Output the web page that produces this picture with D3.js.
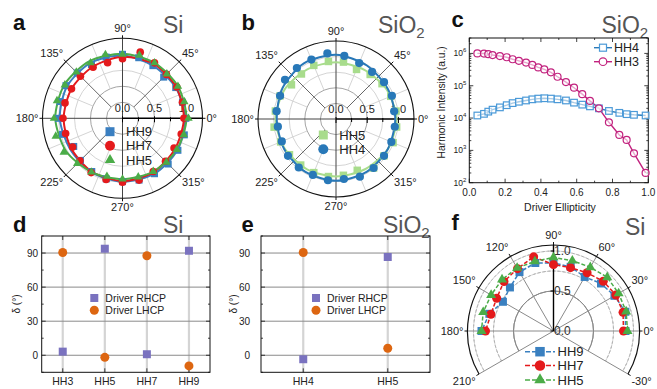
<!DOCTYPE html>
<html>
<head>
<meta charset="utf-8">
<script src="https://cdn.jsdelivr.net/npm/d3@7"></script>
<style>
  body { margin: 0; background: #fff; }
  svg text { font-family: "Liberation Sans", Arial, Helvetica, sans-serif; }
</style>
</head>
<body>
<svg id="fig" width="657" height="389"></svg>
<script>
// ---------------- data ----------------
// (a) Si: normalised harmonic yield vs. half-wave-plate angle
const siAngles = [0,15,30,45,60,75,90,105,120,135,150,165,180,195,210,225,240,255,270,285,300,315,330,345];
const siHH9 = [0.99,0.97,0.96,0.91,0.95,0.98,1.00,0.99,0.97,1.00,1.02,1.01,1.00,0.97,0.88,0.93,0.96,0.98,0.99,1.00,1.00,1.01,1.00,1.00];
const siHH7 = [0.96,0.97,0.98,0.97,1.00,1.07,0.93,0.90,0.92,0.93,0.92,0.93,0.93,0.92,0.90,0.94,0.98,0.99,1.00,1.00,0.96,0.95,0.93,0.95];
const siHH5 = [1.03,1.00,1.00,0.98,1.00,1.02,1.00,1.03,1.00,1.02,1.04,1.06,1.07,1.08,1.06,1.00,0.97,0.94,0.95,0.95,0.96,0.97,0.98,0.99];
const siFitAngles = [0,30,60,90,120,150,180,210,240,270,300,330];
const siFitHH9 = [0.98,0.96,0.95,0.98,1.00,1.00,0.98,0.95,0.97,0.99,1.00,0.99];
const siFitHH7 = [0.96,0.97,0.98,0.96,0.93,0.92,0.92,0.93,0.96,0.98,0.97,0.95];
const siFitHH5 = [1.00,1.00,1.00,1.01,1.03,1.05,1.05,1.02,0.97,0.95,0.96,0.98];

// (b) SiO2
const sio2Angles = [7.5,22.5,37.5,52.5,67.5,82.5,97.5,112.5,127.5,142.5,157.5,172.5,187.5,202.5,217.5,232.5,247.5,262.5,277.5,292.5,307.5,322.5,337.5,352.5];
const sio2HH4 = [0.94,0.97,0.97,0.95,0.97,1.02,1.06,1.03,1.03,1.03,0.97,0.96,0.94,0.94,0.97,0.98,0.97,0.99,0.97,1.00,0.99,0.97,0.96,0.95];
const sio2HH5 = [0.97,0.95,0.93,0.90,0.86,0.92,0.93,0.93,0.91,0.90,0.97,0.98,1.00,0.96,0.94,0.93,0.93,0.93,0.91,0.89,0.99,0.97,0.99,0.98];
const sio2FitAngles = [0,30,60,90,120,150,180,210,240,270,300,330];
const sio2FitHH4 = [0.95,0.96,0.99,1.03,1.03,0.99,0.95,0.96,0.98,0.99,0.98,0.96];
const sio2FitHH5 = [0.97,0.94,0.91,0.91,0.92,0.95,0.97,0.95,0.93,0.92,0.93,0.96];

// (c) SiO2 harmonic intensity vs. driver ellipticity
const ellipticity = [0.045,0.082,0.106,0.130,0.171,0.209,0.242,0.277,0.317,0.352,0.385,0.419,0.456,0.493,0.540,0.585,0.631,0.674,0.724,0.780,0.838,0.879,0.920,0.985];
const intensityHH4 = [1.2e4,1.35e4,1.58e4,1.82e4,2.14e4,2.5e4,2.9e4,3.2e4,3.5e4,3.8e4,4.0e4,4.1e4,4.0e4,3.8e4,3.5e4,3.0e4,2.6e4,2.3e4,2.0e4,1.66e4,1.45e4,1.32e4,1.26e4,1.2e4];
const intensityHH3 = [1.0e6,9.9e5,9.5e5,8.9e5,8.3e5,7.6e5,6.6e5,5.9e5,5.2e5,4.4e5,3.7e5,3.2e5,2.6e5,1.9e5,1.3e5,8.7e4,5.5e4,3.4e4,2.0e4,7.4e3,3.0e3,2.1e3,8.1e2,2.0e2];
const ellipTicks = [0.0,0.2,0.4,0.6,0.8,1.0];
const intensityExponents = [2,3,4,5,6];

// (d) Si phase delta
const dHarmonics = ["HH3","HH5","HH7","HH9"];
const dRHCP = [3.2,93.8,0.9,92.0];
const dLHCP = [90.5,-1.8,87.6,-9.4];
// (e) SiO2 phase delta
const eHarmonics = ["HH4","HH5"];
const eRHCP = [-3.5,86.5];
const eLHCP = [90.5,6.2];
const deltaTicks = [0,30,60,90];

// (f) Si, half-range polar
const fAngles = [0,15,30,45,60,75,90,105,120,135,150,165,180];
const fHH9 = [0.90,0.93,0.88,0.84,0.78,0.83,0.85,0.88,0.85,0.77,0.73,0.83,0.90];
const fHH7 = [0.875,0.90,0.90,0.88,0.84,0.82,0.83,0.96,0.90,0.875,0.82,0.81,0.85];
const fHH5 = [0.925,0.94,0.94,0.95,0.92,0.91,0.92,0.90,0.91,0.91,0.90,0.91,0.90];

const fullAngleTicks = [0,45,90,135,180,225,270,315];
const halfAngleTicks = [-30,0,30,60,90,120,150,180,210];

// ---------------- helpers ----------------
const svg = d3.select("#fig");
svg.append("rect").attr("width", 657).attr("height", 389).attr("fill", "#fff");
const RAD = Math.PI / 180;
function pt(cx, cy, r, deg) { return [cx + r * Math.cos(deg * RAD), cy - r * Math.sin(deg * RAD)]; }
const sq = s => d3.symbol().type(d3.symbolSquare).size(s * s)();
const circ = d => d3.symbol().type(d3.symbolCircle).size(Math.PI * d * d / 4)();
const tri = s => d3.symbol().type(d3.symbolTriangle).size(Math.sqrt(3) / 4 * s * s)();
const zipPolar = (angles, vals) => angles.map((a, i) => ({ a: a, r: vals[i] }));

function angleLabel(g, cx, cy, rr, deg, fs) {
  const [x, y] = pt(cx, cy, rr, deg);
  const c = Math.cos(deg * RAD), s = Math.sin(deg * RAD);
  const anchor = c > 0.3 ? "start" : (c < -0.3 ? "end" : "middle");
  const dy = s > 0.3 ? -2 : (s < -0.3 ? fs * 0.8 : fs * 0.35);
  g.append("text").attr("x", x).attr("y", y + dy).attr("text-anchor", anchor)
    .attr("font-size", fs).attr("fill", "#222").text(deg + "°");
}

function panelHeader(letter, lx, ly, title, sub, tx, ty) {
  svg.append("text").attr("x", lx).attr("y", ly).attr("font-size", 22).attr("font-weight", "bold")
    .attr("fill", "#111").text(letter);
  const t = svg.append("text").attr("x", tx).attr("y", ty).attr("font-size", 23).attr("fill", "#555").text(title);
  if (sub) t.append("tspan").attr("font-size", 15).attr("dy", 5).text(sub);
}

// full-circle polar panel
function fullPolar(o) {
  const g = svg.append("g");
  const r = d3.scaleLinear().domain([0, o.rMax]).range([0, o.R]);
  const { cx, cy, R } = o;
  [[0.25, "#9a9a9a"], [0.5, "#9a9a9a"], [0.75, "#cfcfcf"], [1.0, "#cfcfcf"]].forEach(([v, c]) =>
    g.append("circle").attr("cx", cx).attr("cy", cy).attr("r", r(v)).attr("fill", "none").attr("stroke", c).attr("stroke-width", 0.9));
  for (let a = 22.5; a < 360; a += 45) {
    const [x1, y1] = pt(cx, cy, r(0.5), a), [x2, y2] = pt(cx, cy, R, a);
    g.append("line").attr("x1", x1).attr("y1", y1).attr("x2", x2).attr("y2", y2).attr("stroke", "#cfcfcf").attr("stroke-width", 0.9);
  }
  [45, 135, 225, 315].forEach(a => {
    const [x1, y1] = pt(cx, cy, r(0.25), a), [x2, y2] = pt(cx, cy, R, a);
    g.append("line").attr("x1", x1).attr("y1", y1).attr("x2", x2).attr("y2", y2).attr("stroke", "#555").attr("stroke-width", 0.9);
  });
  g.append("line").attr("x1", cx).attr("y1", cy - R).attr("x2", cx).attr("y2", cy + R).attr("stroke", "#444").attr("stroke-width", 1);
  g.append("line").attr("x1", cx - R).attr("y1", cy).attr("x2", cx).attr("y2", cy).attr("stroke", "#444").attr("stroke-width", 1);
  g.append("circle").attr("cx", cx).attr("cy", cy).attr("r", R).attr("fill", "none").attr("stroke", "#111").attr("stroke-width", 1.1);
  fullAngleTicks.forEach(a => {
    const [x1, y1] = pt(cx, cy, R, a), [x2, y2] = pt(cx, cy, R + 3, a);
    g.append("line").attr("x1", x1).attr("y1", y1).attr("x2", x2).attr("y2", y2).attr("stroke", "#111");
    angleLabel(g, cx, cy, R + 4, a, 11);
  });
  // radial axis along 0°
  g.append("line").attr("x1", cx).attr("y1", cy).attr("x2", cx + R).attr("y2", cy).attr("stroke", "#000").attr("stroke-width", 1.4);
  [0, 0.25, 0.5, 0.75, 1.0].forEach(v => {
    const major = (v * 2) % 1 === 0;
    g.append("line").attr("x1", cx + r(v)).attr("x2", cx + r(v)).attr("y1", cy - (major ? 2 : 1)).attr("y2", cy + (major ? 4 : 3))
      .attr("stroke", "#000").attr("stroke-width", 1);
    if (major) g.append("text").attr("x", cx + r(v)).attr("y", cy - 6).attr("text-anchor", "middle")
      .attr("font-size", 11).attr("fill", "#222").text(v.toFixed(1));
  });
  const line = d3.lineRadial().angle(d => (90 - d.a) * RAD).radius(d => r(d.r)).curve(d3.curveCardinalClosed.tension(0.2));
  o.fits.forEach(f => g.append("path").attr("transform", `translate(${cx},${cy})`).attr("d", line(f.data))
    .attr("fill", "none").attr("stroke", f.color).attr("stroke-width", 2));
  o.series.forEach(s => s.data.forEach(d => {
    const [x, y] = pt(cx, cy, r(d.r), d.a);
    g.append("path").attr("d", s.shape).attr("transform", `translate(${x},${y})`).attr("fill", s.color);
  }));
  o.legend.forEach(l => {
    g.append("path").attr("d", l.shape).attr("transform", `translate(${l.x},${l.y})`).attr("fill", l.color);
    g.append("text").attr("x", l.tx).attr("y", l.y + 4.6).attr("font-size", 13).attr("fill", "#222").text(l.label);
  });
}

// ---------------- (a) Si ----------------
const cBlue = "#3a7fc1", cRed = "#e41a1c", cGreen = "#4bac48";
panelHeader("a", 13, 30, "Si", null, 163, 33);
fullPolar({
  cx: 122.5, cy: 118.3, R: 80, rMax: 1.25,
  fits: [
    { data: zipPolar(siFitAngles, siFitHH9), color: cBlue },
    { data: zipPolar(siFitAngles, siFitHH7), color: cRed },
    { data: zipPolar(siFitAngles, siFitHH5), color: cGreen }
  ],
  series: [
    { data: zipPolar(siAngles, siHH9), color: cBlue, shape: sq(7) },
    { data: zipPolar(siAngles, siHH7), color: cRed, shape: circ(7.6) },
    { data: zipPolar(siAngles, siHH5), color: cGreen, shape: tri(8.5) }
  ],
  legend: [
    { label: "HH9", color: cBlue, shape: sq(9), x: 110, y: 131.7, tx: 126 },
    { label: "HH7", color: cRed, shape: circ(10), x: 110, y: 145.7, tx: 126 },
    { label: "HH5", color: cGreen, shape: tri(10.5), x: 110, y: 160, tx: 126 }
  ]
});

// ---------------- (b) SiO2 ----------------
const cBlueB = "#2878b8", cLight = "#a8dc8c";
panelHeader("b", 241.5, 30, "SiO", "2", 378, 33);
fullPolar({
  cx: 336, cy: 119, R: 78, rMax: 1.25,
  fits: [
    { data: zipPolar(sio2FitAngles, sio2FitHH5), color: cLight },
    { data: zipPolar(sio2FitAngles, sio2FitHH4), color: cBlueB }
  ],
  series: [
    { data: zipPolar(sio2Angles, sio2HH5), color: cLight, shape: sq(7.5) },
    { data: zipPolar(sio2Angles, sio2HH4), color: cBlueB, shape: circ(8.2) }
  ],
  legend: [
    { label: "HH5", color: cLight, shape: sq(9), x: 323.3, y: 135, tx: 339.3 },
    { label: "HH4", color: cBlueB, shape: circ(10), x: 323.3, y: 149.3, tx: 339.3 }
  ]
});

// ---------------- (c) intensity vs ellipticity ----------------
(function () {
  panelHeader("c", 451.5, 27, "SiO", "2", 601.5, 33);
  const L = 469.3, Rt = 648.3, T = 38, B = 182.7;
  const g = svg.append("g");
  const x = d3.scaleLinear().domain([0, 1]).range([L, Rt]);
  const y = d3.scaleLog().domain([1e2, 3e6]).range([B, T]);
  const tk = (x1, y1, x2, y2) => g.append("line").attr("x1", x1).attr("y1", y1).attr("x2", x2).attr("y2", y2).attr("stroke", "#111").attr("stroke-width", 0.8);
  [0.1, 0.3, 0.5, 0.7, 0.9].forEach(v => { tk(x(v), B, x(v), B - 2); tk(x(v), T, x(v), T + 2); });
  ellipTicks.forEach(v => {
    tk(x(v), B, x(v), B - 4); tk(x(v), T, x(v), T + 4);
    g.append("text").attr("x", x(v)).attr("y", B + 13.5).attr("text-anchor", "middle").attr("font-size", 10).attr("fill", "#222").text(v.toFixed(1));
  });
  intensityExponents.forEach(e => {
    const v = Math.pow(10, e);
    tk(L, y(v), L + 4, y(v)); tk(Rt, y(v), Rt - 4, y(v));
    for (let m = 2; m <= 9; m++) {
      const mv = m * v;
      if (mv <= 3e6) { tk(L, y(mv), L + 2, y(mv)); tk(Rt, y(mv), Rt - 2, y(mv)); }
    }
    const t = g.append("text").attr("x", L - 3).attr("y", y(v) + 3).attr("text-anchor", "end").attr("font-size", 8.5).attr("fill", "#222").text("10");
    t.append("tspan").attr("font-size", 6).attr("dy", -4).text(e);
  });
  g.append("rect").attr("x", L).attr("y", T).attr("width", Rt - L).attr("height", B - T).attr("fill", "none").attr("stroke", "#111").attr("stroke-width", 1);
  g.append("text").attr("transform", `translate(${441.7},${102.3}) rotate(-90)`).attr("text-anchor", "middle").attr("dy", 3.5)
    .attr("font-size", 10.3).attr("fill", "#222").text("Harmonic Intensity (a.u.)");
  g.append("text").attr("x", 560).attr("y", 211).attr("text-anchor", "middle").attr("font-size", 10.5).attr("fill", "#222").text("Driver Ellipticity");

  const cHH4 = "#2b7bba", cHH4m = "#4b9ad8", cHH3 = "#c2227e";
  const ln = d3.line().x(d => x(d[0])).y(d => y(d[1]));
  const s4 = ellipticity.map((e, i) => [e, intensityHH4[i]]);
  const s3 = ellipticity.map((e, i) => [e, intensityHH3[i]]);
  g.append("path").attr("d", ln(s4)).attr("fill", "none").attr("stroke", cHH4).attr("stroke-width", 1.4);
  g.append("path").attr("d", ln(s3)).attr("fill", "none").attr("stroke", cHH3).attr("stroke-width", 1.4);
  s4.forEach(d => g.append("rect").attr("x", x(d[0]) - 3.3).attr("y", y(d[1]) - 3.3).attr("width", 6.6).attr("height", 6.6)
    .attr("fill", "#fff").attr("fill-opacity", 0.6).attr("stroke", cHH4m).attr("stroke-width", 1.2));
  s3.forEach(d => g.append("circle").attr("cx", x(d[0])).attr("cy", y(d[1])).attr("r", 3.5)
    .attr("fill", "#fff").attr("fill-opacity", 0.6).attr("stroke", cHH3).attr("stroke-width", 1.2));
  // legend
  [["HH4", cHH4, cHH4m, "sq", 47.7], ["HH3", cHH3, cHH3, "ci", 61.7]].forEach(([lab, c, cm, shp, ly]) => {
    g.append("line").attr("x1", 594).attr("x2", 612).attr("y1", ly).attr("y2", ly).attr("stroke", c).attr("stroke-width", 1.4);
    if (shp === "sq") g.append("rect").attr("x", 603 - 3.5).attr("y", ly - 3.5).attr("width", 7).attr("height", 7).attr("fill", "#fff").attr("stroke", cm).attr("stroke-width", 1.2);
    else g.append("circle").attr("cx", 603).attr("cy", ly).attr("r", 3.8).attr("fill", "#fff").attr("stroke", cm).attr("stroke-width", 1.2);
    g.append("text").attr("x", 614).attr("y", ly + 4.5).attr("font-size", 12.5).attr("fill", "#222").text(lab);
  });
})();

// ---------------- (d), (e) phase delta ----------------
const cPurple = "#7a72bf", cOrange = "#dd6611";
function deltaPanel(o) {
  const g = svg.append("g");
  const T = 236, B = 372.3;
  const x = d3.scalePoint().domain(o.cats).range([o.L, o.R]).padding(0.5);
  const y = d3.scaleLinear().domain([-15, 105]).range([B, T]);
  o.cats.forEach(c => g.append("line").attr("x1", x(c)).attr("x2", x(c)).attr("y1", T).attr("y2", B).attr("stroke", "#d4d4d4").attr("stroke-width", 2.2));
  deltaTicks.forEach(v => g.append("line").attr("x1", o.L).attr("x2", o.R).attr("y1", y(v)).attr("y2", y(v)).attr("stroke", "#8a8a8a").attr("stroke-width", 1));
  const tk = (x1, y1, x2, y2) => g.append("line").attr("x1", x1).attr("y1", y1).attr("x2", x2).attr("y2", y2).attr("stroke", "#111").attr("stroke-width", 0.8);
  [-15, 15, 45, 75, 105].forEach(v => { tk(o.L, y(v), o.L + 2, y(v)); tk(o.R, y(v), o.R - 2, y(v)); });
  deltaTicks.forEach(v => {
    tk(o.L, y(v), o.L + 4, y(v)); tk(o.R, y(v), o.R - 4, y(v));
    g.append("text").attr("x", o.labX).attr("y", y(v) + 3.5).attr("text-anchor", "end").attr("font-size", 10).attr("fill", "#222").text(v);
  });
  o.cats.forEach(c => {
    tk(x(c), B, x(c), B - 4); tk(x(c), T, x(c), T + 4);
    g.append("text").attr("x", x(c)).attr("y", B + 13).attr("text-anchor", "middle").attr("font-size", 10.5).attr("fill", "#222").text(c);
  });
  g.append("rect").attr("x", o.L).attr("y", T).attr("width", o.R - o.L).attr("height", B - T).attr("fill", "none").attr("stroke", "#111").attr("stroke-width", 1);
  g.append("text").attr("transform", `translate(${o.yLabX},304) rotate(-90)`).attr("text-anchor", "middle").attr("dy", 3.5)
    .attr("font-size", 10).attr("fill", "#222").text("δ (°)");
  o.cats.forEach((c, i) => {
    g.append("path").attr("d", sq(8)).attr("transform", `translate(${x(c)},${y(o.rhcp[i])})`).attr("fill", cPurple);
    g.append("path").attr("d", circ(9)).attr("transform", `translate(${x(c)},${y(o.lhcp[i])})`).attr("fill", cOrange);
  });
  g.append("path").attr("d", sq(8)).attr("transform", `translate(${o.legX},298)`).attr("fill", cPurple);
  g.append("text").attr("x", o.legX + 11).attr("y", 301.8).attr("font-size", 10.5).attr("fill", "#222").text("Driver RHCP");
  g.append("path").attr("d", circ(9)).attr("transform", `translate(${o.legX},310.3)`).attr("fill", cOrange);
  g.append("text").attr("x", o.legX + 11).attr("y", 314.1).attr("font-size", 10.5).attr("fill", "#222").text("Driver LHCP");
}
panelHeader("d", 13, 231.5, "Si", null, 163, 233);
deltaPanel({ cats: dHarmonics, rhcp: dRHCP, lhcp: dLHCP, L: 41.7, R: 210, labX: 38, yLabX: 16, legX: 94.3 });
panelHeader("e", 241.5, 231.5, "SiO", "2", 383, 233);
deltaPanel({ cats: eHarmonics, rhcp: eRHCP, lhcp: eLHCP, L: 261, R: 430, labX: 250, yLabX: 233.3, legX: 316 });

// ---------------- (f) half polar ----------------
(function () {
  panelHeader("f", 451.5, 230, "Si", null, 625, 235);
  const cx = 553.5, cy = 331, R = 86;
  const g = svg.append("g");
  const r = d3.scaleLinear().domain([0, 1.075]).range([0, R]);
  const arc = (rad) => d3.arc().innerRadius(rad).outerRadius(rad).startAngle(-120 * RAD).endAngle(120 * RAD)();
  [0.75, 1.0].forEach(v => g.append("path").attr("d", arc(r(v))).attr("transform", `translate(${cx},${cy})`)
    .attr("fill", "none").attr("stroke", "#b0b0b0").attr("stroke-width", 0.9).attr("stroke-dasharray", "3,2"));
  g.append("path").attr("d", arc(r(0.5))).attr("transform", `translate(${cx},${cy})`)
    .attr("fill", "none").attr("stroke", "#8a8a8a").attr("stroke-width", 1);
  [-30, 0, 30, 60, 120, 150, 180, 210].forEach(a => {
    const [x2, y2] = pt(cx, cy, R, a);
    g.append("line").attr("x1", cx).attr("y1", cy).attr("x2", x2).attr("y2", y2).attr("stroke", "#8a8a8a").attr("stroke-width", 1);
  });
  g.append("path").attr("d", arc(R)).attr("transform", `translate(${cx},${cy})`).attr("fill", "none").attr("stroke", "#111").attr("stroke-width", 1.2);
  halfAngleTicks.forEach(a => {
    const [x1, y1] = pt(cx, cy, R, a), [x2, y2] = pt(cx, cy, R + 3, a);
    g.append("line").attr("x1", x1).attr("y1", y1).attr("x2", x2).attr("y2", y2).attr("stroke", "#111");
    angleLabel(g, cx, cy, R + 4, a, 11);
  });
  // radial axis at 90°
  g.append("line").attr("x1", cx).attr("y1", cy).attr("x2", cx).attr("y2", cy - R).attr("stroke", "#000").attr("stroke-width", 1.4);
  [0, 0.5, 1.0].forEach(v => {
    g.append("line").attr("x1", cx - 3).attr("x2", cx).attr("y1", cy - r(v)).attr("y2", cy - r(v)).attr("stroke", "#000");
    g.append("text").attr("x", cx + 0.5).attr("y", cy - r(v) + 4).attr("font-size", 12).attr("fill", "#333").text(v.toFixed(1));
  });
  const ln = d3.line().x(d => pt(cx, cy, r(d.r), d.a)[0]).y(d => pt(cx, cy, r(d.r), d.a)[1]);
  const fBlue = "#3a80c0";
  const sets = [
    { data: zipPolar(fAngles, fHH9), color: fBlue, shape: sq(8), lshape: sq(9.5), label: "HH9", ly: 351.7 },
    { data: zipPolar(fAngles, fHH7), color: cRed, shape: circ(9), lshape: circ(10.5), label: "HH7", ly: 365.5 },
    { data: zipPolar(fAngles, fHH5), color: cGreen, shape: tri(10), lshape: tri(11.5), label: "HH5", ly: 380 }
  ];
  sets.forEach(s => {
    g.append("path").attr("d", ln(s.data)).attr("fill", "none").attr("stroke", s.color).attr("stroke-width", 1.5).attr("stroke-dasharray", "4,2");
    s.data.forEach(d => {
      const [x, y] = pt(cx, cy, r(d.r), d.a);
      g.append("path").attr("d", s.shape).attr("transform", `translate(${x},${y})`).attr("fill", s.color);
    });
  });
  sets.forEach(s => {
    g.append("line").attr("x1", 525).attr("x2", 555).attr("y1", s.ly).attr("y2", s.ly).attr("stroke", s.color).attr("stroke-width", 1.6).attr("stroke-dasharray", "5,2");
    g.append("path").attr("d", s.lshape).attr("transform", `translate(540,${s.ly})`).attr("fill", s.color);
    g.append("text").attr("x", 557.5).attr("y", s.ly + 4.7).attr("font-size", 13).attr("fill", "#222").text(s.label);
  });
})();
</script>
</body>
</html>
